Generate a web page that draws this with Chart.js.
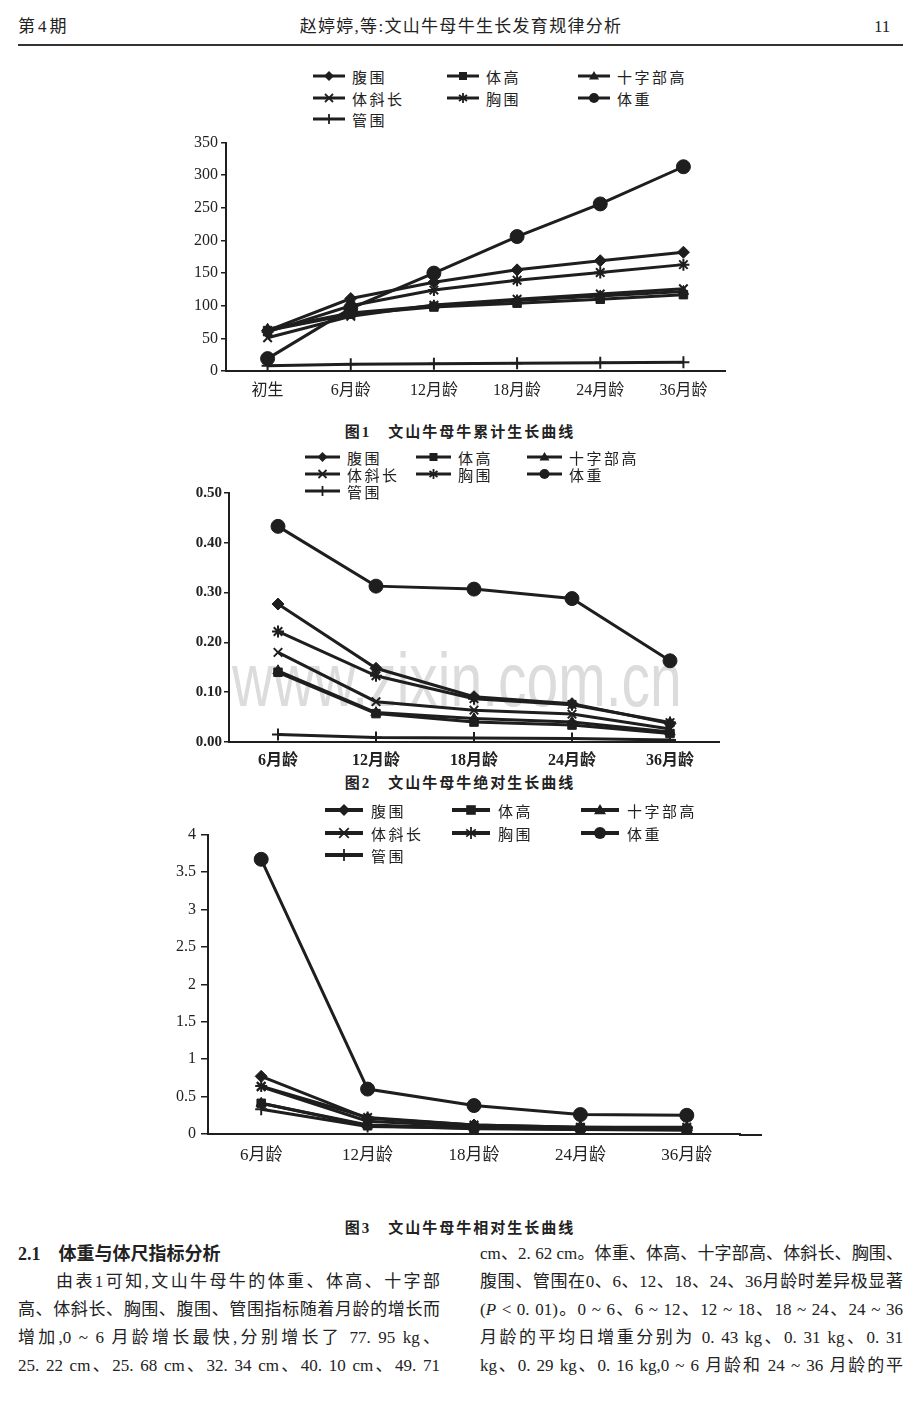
<!DOCTYPE html>
<html lang="zh">
<head>
<meta charset="utf-8">
<script src="https://cdn.jsdelivr.net/npm/chart.js@4.4.0/dist/chart.umd.min.js"></script>
<style>
body{margin:0;width:920px;height:1404px;background:#fff;position:relative;overflow:hidden;
  font-family:"Liberation Serif","Noto Sans CJK SC",serif;color:#222}
.abs{position:absolute}
.hdr{top:16px;font-size:17px;line-height:22px;white-space:nowrap}
.rule{left:18px;top:44px;width:885px;height:2px;background:#333}
.cv{position:absolute;z-index:2}
.leg{position:absolute;z-index:3;display:flex;align-items:center;white-space:nowrap;
  font-family:"Noto Sans CJK SC",sans-serif;font-size:15px;letter-spacing:2.5px;color:#222}
.cap{position:absolute;left:0;width:920px;text-align:center;font-weight:bold;font-size:15px;letter-spacing:2px;line-height:20px}
.wm{position:absolute;z-index:1;left:232px;top:642px;font-family:"Liberation Sans",sans-serif;font-size:76px;line-height:76px;
  color:#dcdcdc;transform:scaleX(0.75);transform-origin:0 0;white-space:nowrap}
.col{position:absolute;top:1240px;font-size:17px;line-height:28px}
.col div{text-align:justify;text-align-last:justify;height:28px;white-space:nowrap}
.col .h{text-align:left;text-align-last:left;font-weight:bold;font-family:"Liberation Serif","Noto Sans CJK SC";font-size:18px}
</style>
</head>
<body>
<div class="abs hdr" style="left:18px;letter-spacing:3px">第4期</div>
<div class="abs hdr" style="left:0;width:922px;text-align:center;letter-spacing:1.3px">赵婷婷,等:文山牛母牛生长发育规律分析</div>
<div class="abs hdr" style="left:874px">11</div>
<div class="abs rule"></div>

<div id="leg1"></div>
<canvas id="c1" class="cv" width="570" height="275" style="left:170px;top:130px"></canvas>
<div class="cap" style="top:422px">图1　文山牛母牛累计生长曲线</div>

<div id="leg2"></div>
<div class="wm">www.zixin.com.cn</div>
<canvas id="c2" class="cv" width="560" height="290" style="left:170px;top:480px"></canvas>
<div class="cap" style="top:773px">图2　文山牛母牛绝对生长曲线</div>

<div id="leg3"></div>
<canvas id="c3" class="cv" width="625" height="345" style="left:147px;top:820px"></canvas>
<div class="cap" style="top:1218px">图3　文山牛母牛相对生长曲线</div>

<div class="col" style="left:18px;width:422px">
  <div class="h">2.1　体重与体尺指标分析</div>
  <div style="padding-left:38px">由表1可知,文山牛母牛的体重、体高、十字部</div>
  <div>高、体斜长、胸围、腹围、管围指标随着月龄的增长而</div>
  <div>增加,0 ~ 6 月龄增长最快,分别增长了 77. 95 kg、</div>
  <div>25. 22 cm、25. 68 cm、32. 34 cm、40. 10 cm、49. 71</div>
</div>
<div class="col" style="left:480px;width:423px">
  <div>cm、2. 62 cm。体重、体高、十字部高、体斜长、胸围、</div>
  <div>腹围、管围在0、6、12、18、24、36月龄时差异极显著</div>
  <div>(<i>P</i> &lt; 0. 01)。0 ~ 6、6 ~ 12、12 ~ 18、18 ~ 24、24 ~ 36</div>
  <div>月龄的平均日增重分别为 0. 43 kg、0. 31 kg、0. 31</div>
  <div>kg、0. 29 kg、0. 16 kg,0 ~ 6 月龄和 24 ~ 36 月龄的平</div>
</div>

<script>
// categories
var labelsCum = ['初生', '6月龄', '12月龄', '18月龄', '24月龄', '36月龄'];
var labelsRate = ['6月龄', '12月龄', '18月龄', '24月龄', '36月龄'];

// series names, in legend order
var seriesNames = ['腹围', '体高', '十字部高', '体斜长', '胸围', '体重', '管围'];

// fig 1 : cumulative growth
var cumAbdomen = [62, 111, 136, 155, 169, 182];
var cumHeight  = [62, 87, 98, 104, 110, 117];
var cumHip     = [64, 89, 100, 108, 115, 122];
var cumLength  = [51, 84, 101, 110, 118, 126];
var cumChest   = [60, 100, 124, 139, 151, 163];
var cumWeight  = [19, 96, 150, 206, 256, 313];
var cumCannon  = [8, 10.5, 11, 12, 12.5, 13.5];

// fig 2 : absolute growth
var absAbdomen = [0.277, 0.148, 0.091, 0.077, 0.037];
var absHeight  = [0.140, 0.057, 0.040, 0.034, 0.017];
var absHip     = [0.143, 0.059, 0.047, 0.040, 0.020];
var absLength  = [0.180, 0.081, 0.064, 0.056, 0.026];
var absChest   = [0.222, 0.133, 0.087, 0.075, 0.039];
var absWeight  = [0.433, 0.313, 0.307, 0.288, 0.163];
var absCannon  = [0.015, 0.009, 0.008, 0.007, 0.004];

// fig 3 : relative growth
var relAbdomen = [0.77, 0.21, 0.12, 0.09, 0.08];
var relHeight  = [0.41, 0.11, 0.07, 0.06, 0.06];
var relHip     = [0.41, 0.12, 0.08, 0.07, 0.06];
var relLength  = [0.63, 0.17, 0.10, 0.08, 0.07];
var relChest   = [0.64, 0.22, 0.12, 0.09, 0.09];
var relWeight  = [3.67, 0.60, 0.38, 0.26, 0.25];
var relCannon  = [0.33, 0.10, 0.08, 0.06, 0.05];

// y axis ticks : min, max, step
var yTicksCum = [0, 350, 50];
var yTicksAbs = [0, 0.5, 0.1];
var yTicksRel = [0, 4, 0.5];

var markers = ['rectRot', 'rect', 'triangle', 'crossRot', 'star', 'circle', 'cross'];
var ink = '#1e1e1e';
var serif = '"Liberation Serif", "Noto Sans CJK SC", serif';

// small plugin: prolong the x axis line past the last category
var axisExtend = {
    id: 'axisExtend',
    afterDraw: function(chart, args, opts) {
        if (!opts.px) return;
        var a = chart.chartArea, ctx = chart.ctx;
        ctx.save();
        ctx.strokeStyle = ink;
        ctx.lineWidth = 2;
        ctx.beginPath();
        ctx.moveTo(a.right - 1, a.bottom + 1);
        ctx.lineTo(a.right + opts.px, a.bottom + 1);
        ctx.stroke();
        ctx.restore();
    }
};

function makeChart(id, labels, series, yt, c) {
    var datasets = series.map(function(vals, i) {
        return {
            label: seriesNames[i],
            data: vals,
            borderColor: ink,
            backgroundColor: ink,
            borderWidth: c.lw,
            pointStyle: markers[i],
            pointRadius: markers[i] == 'circle' ? c.r + 1 : c.r,
            pointBorderWidth: (markers[i].indexOf('cross') == 0 || markers[i] == 'star') ? 2 : 1,
            pointBorderColor: ink,
            pointBackgroundColor: ink,
            tension: 0
        };
    });
    return new Chart(document.getElementById(id), {
        type: 'line',
        data: { labels: labels, datasets: datasets },
        plugins: [axisExtend],
        options: {
            responsive: false,
            animation: false,
            layout: { padding: { top: c.padTop, right: c.padRight, left: 0, bottom: 0 } },
            plugins: { legend: { display: false }, tooltip: { enabled: false }, axisExtend: { px: c.ext || 0 } },
            scales: {
                x: {
                    offset: true,
                    grid: { display: false, drawTicks: false },
                    border: { display: true, color: ink, width: 2 },
                    ticks: { color: '#222', padding: c.xPad, maxRotation: 0,
                             font: { family: serif, size: c.xFont, weight: c.bold ? 'bold' : 'normal' } },
                    afterFit: function(s) { s.height = c.xH; }
                },
                y: {
                    min: yt[0], max: yt[1],
                    grid: { drawOnChartArea: false, drawTicks: true, tickLength: c.tl, color: ink, lineWidth: 1.5 },
                    border: { display: true, color: ink, width: 2 },
                    ticks: { stepSize: yt[2], color: '#222', padding: c.yPad,
                             font: { family: serif, size: c.yFont, weight: c.bold ? 'bold' : 'normal' },
                             callback: c.fmt },
                    afterFit: function(s) { s.width = c.yW; }
                }
            }
        }
    });
}

function markerSvg(style, w, r, lw) {
    var h = 2 * r + 4, cx = w / 2, cy = h / 2, m = '';
    var st = 'stroke="' + ink + '" stroke-width="1.8"';
    if (style == 'rectRot') m = '<polygon points="' + cx + ',' + (cy - r) + ' ' + (cx + r) + ',' + cy + ' ' + cx + ',' + (cy + r) + ' ' + (cx - r) + ',' + cy + '" fill="' + ink + '"/>';
    if (style == 'rect') m = '<rect x="' + (cx - r * 0.8) + '" y="' + (cy - r * 0.8) + '" width="' + (r * 1.6) + '" height="' + (r * 1.6) + '" fill="' + ink + '"/>';
    if (style == 'triangle') m = '<polygon points="' + cx + ',' + (cy - r) + ' ' + (cx + r) + ',' + (cy + r * 0.7) + ' ' + (cx - r) + ',' + (cy + r * 0.7) + '" fill="' + ink + '"/>';
    if (style == 'crossRot') m = '<line x1="' + (cx - r * 0.8) + '" y1="' + (cy - r * 0.8) + '" x2="' + (cx + r * 0.8) + '" y2="' + (cy + r * 0.8) + '" ' + st + '/><line x1="' + (cx - r * 0.8) + '" y1="' + (cy + r * 0.8) + '" x2="' + (cx + r * 0.8) + '" y2="' + (cy - r * 0.8) + '" ' + st + '/>';
    if (style == 'star') m = '<line x1="' + cx + '" y1="' + (cy - r) + '" x2="' + cx + '" y2="' + (cy + r) + '" ' + st + '/><line x1="' + (cx - r * 0.8) + '" y1="' + (cy - r * 0.6) + '" x2="' + (cx + r * 0.8) + '" y2="' + (cy + r * 0.6) + '" ' + st + '/><line x1="' + (cx - r * 0.8) + '" y1="' + (cy + r * 0.6) + '" x2="' + (cx + r * 0.8) + '" y2="' + (cy - r * 0.6) + '" ' + st + '/>';
    if (style == 'circle') m = '<circle cx="' + cx + '" cy="' + cy + '" r="' + r + '" fill="' + ink + '"/>';
    if (style == 'cross') m = '<line x1="' + cx + '" y1="' + (cy - r) + '" x2="' + cx + '" y2="' + (cy + r) + '" ' + st + '/>';
    return '<svg width="' + w + '" height="' + h + '" style="flex:none"><line x1="0" y1="' + cy + '" x2="' + w + '" y2="' + cy + '" stroke="' + ink + '" stroke-width="' + lw + '"/>' + m + '</svg>';
}

function buildLegend(id, cols, rows, w, gap, r, lw) {
    var html = '';
    seriesNames.forEach(function(name, i) {
        var x = cols[i % 3], y = rows[Math.floor(i / 3)], h = 2 * r + 4;
        html += '<div class="leg" style="left:' + x + 'px;top:' + (y - h / 2) + 'px;height:' + h + 'px">' +
            markerSvg(markers[i], w, r, lw) + '<span style="margin-left:' + gap + 'px">' + name + '</span></div>';
    });
    document.getElementById(id).innerHTML = html;
}

buildLegend('leg1', [313, 447, 578], [76, 98, 119], 32, 7, 5, 3);
buildLegend('leg2', [305, 416, 527], [457, 474, 491], 35, 7, 5, 3);
buildLegend('leg3', [325, 452, 581], [810, 833, 855], 38, 8, 6, 4);

makeChart('c1', labelsCum,
    [cumAbdomen, cumHeight, cumHip, cumLength, cumChest, cumWeight, cumCannon], yTicksCum,
    { lw: 3, r: 6, padTop: 12, padRight: 15, yW: 56, xH: 34, tl: 5, yPad: 3, xPad: 10,
      xFont: 16, yFont: 16, bold: false });

makeChart('c2', labelsRate,
    [absAbdomen, absHeight, absHip, absLength, absChest, absWeight, absCannon], yTicksAbs,
    { lw: 3, r: 6, padTop: 13, padRight: 11, yW: 59, xH: 28, tl: 5, yPad: 2, xPad: 9,
      xFont: 16, yFont: 15, bold: true, fmt: function(v) { return v.toFixed(2); } });

makeChart('c3', labelsRate,
    [relAbdomen, relHeight, relHip, relLength, relChest, relWeight, relCannon], yTicksRel,
    { lw: 3, r: 6, padTop: 12, padRight: 32, yW: 61, xH: 31, tl: 7, yPad: 5, xPad: 11,
      xFont: 17, yFont: 16, bold: false, ext: 22 });
</script>
</body>
</html>
